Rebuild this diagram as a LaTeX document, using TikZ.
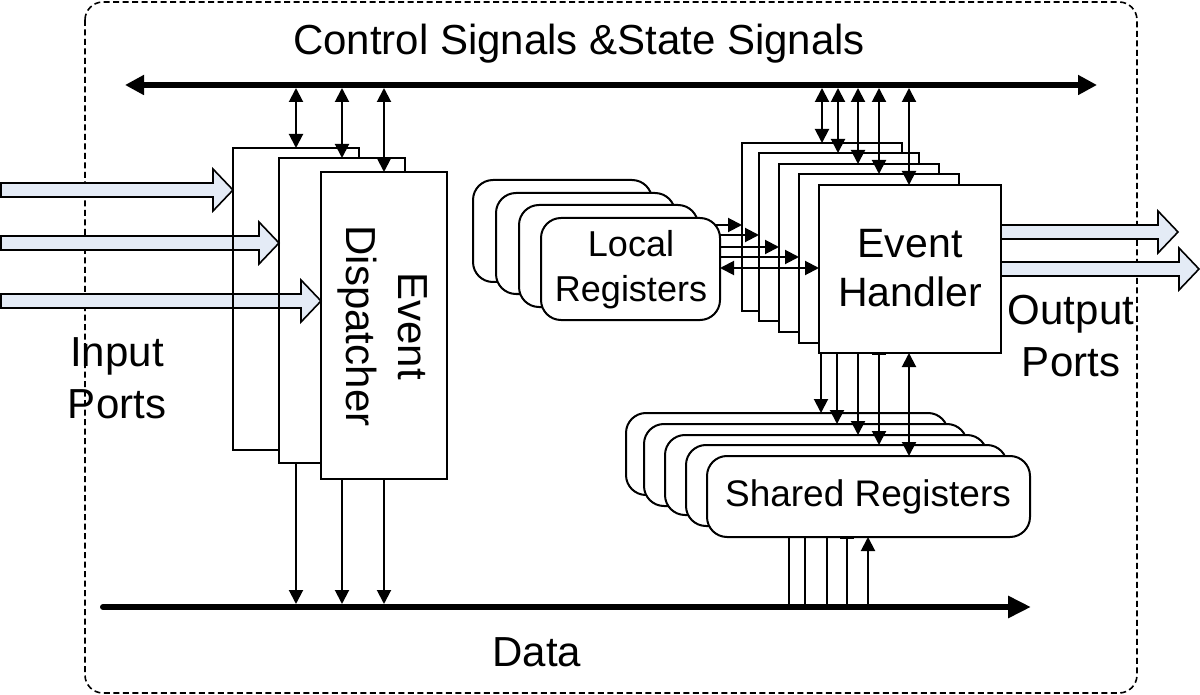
\documentclass[tikz,border=0pt]{standalone}
\usepackage{fontspec}
\setmainfont{Liberation Sans}
\usetikzlibrary{arrows.meta,fit,calc}
\definecolor{portfill}{HTML}{E4EBF6}
\tikzset{
  box/.style={draw=black, line width=2pt, fill=white, inner sep=0pt, outer sep=0pt},
  rbox/.style={box, rounded corners=20pt},
  conn/.style={line width=2pt},
  bus/.style={line width=6pt},
  port/.style={draw=black, line width=1.6pt, fill=portfill},
  lbl/.style={align=center, inner sep=0pt},
  big/.style={font=\fontsize{42}{52}\selectfont},
  mid/.style={font=\fontsize{41}{49}\selectfont},
  small/.style={font=\fontsize{36}{45}\selectfont},
  shr/.style={font=\fontsize{37}{45}\selectfont},
}
\newcommand\portarrow[3]{\draw[port] (#1,#3-7) -- (#2-20,#3-7) -- (#2-20,#3-21) -- (#2,#3) -- (#2-20,#3+21) -- (#2-20,#3+7) -- (#1,#3+7) -- cycle;}
\begin{document}
\begin{tikzpicture}[x=1pt,y=-1pt,>={Triangle[length=14pt,width=14pt]}]
\useasboundingbox (0,0) rectangle (1200,695);
% outer dashed frame
\draw[line width=1.6pt, dash pattern=on 6pt off 3.5pt, rounded corners=18pt] (85,2) rectangle (1137,693);
% buses
\coordinate (cL) at (125,85);
\coordinate (cR) at (1097,85);
\coordinate (dL) at (103,607);
\coordinate (dR) at (1031,607);
\draw[bus, {Triangle[length=19pt,width=19pt]}-{Triangle[length=19pt,width=19pt]}] (cL) -- (cR);
\draw[bus, line cap=round, -{Triangle[length=23pt,width=21pt]}] (dL) -- (dR);
% labels
\node[lbl, big] (ctltxt) at (579,44) {Control Signals \&State Signals};
\node[lbl, big] (datatxt) at (537,652) {Data};
\node[lbl, big] (intxt) at (117,378) {Input\\Ports};
\node[lbl, big] (outtxt) at (1071,336) {Output\\Ports};
% event dispatcher stack
\node[box, fit={(233,148) (359,450)}] (d1) {};
\node[box, fit={(279,158) (405,463)}] (d2) {};
\node[box, fit={(321,172) (447,479)}] (d3) {};
\node[lbl, big, rotate=-90] (dtxt) at (383,326) {Event\\Dispatcher};
% local registers stack
\node[rbox, fit={(473,180) (652,282)}] (lr4) {};
\node[rbox, fit={(496,193) (675,294)}] (lr3) {};
\node[rbox, fit={(519,205) (698,307)}] (lr2) {};
\node[rbox, fit={(541,218) (720,320)}] (lr1) {};
\node[lbl, small] (lrtxt) at (631,270) {Local\\Registers};
% event handler stack
\node[box, fit={(742,143) (902,311)}] (eh1) {};
\node[box, fit={(759,153) (919,321)}] (eh2) {};
\node[box, fit={(779,164) (939,332)}] (eh3) {};
\node[box, fit={(799,174) (959,343)}] (eh4) {};
\node[box, fit={(819,185) (1001,353)}] (eh5) {};
\node[lbl, mid] (ehtxt) at (910,268) {Event\\Handler};
% shared registers stack
\node[rbox, fit={(626,413) (948,495)}] (sr1) {};
\node[rbox, fit={(644,424) (967,506)}] (sr2) {};
\node[rbox, fit={(665,435) (987,515)}] (sr3) {};
\node[rbox, fit={(686,445) (1007,526)}] (sr4) {};
\node[rbox, fit={(707,456) (1030,537)}] (sr5) {};
\node[lbl, shr] (srtxt) at (868,497) {Shared Registers};
% input ports
\portarrow{1}{233}{190}
\portarrow{1}{279}{243}
\portarrow{1}{321}{301}
\draw[line width=2pt] (d1.north west) -- (d1.south west);
\draw[line width=2pt] (d2.north west) -- (d2.south west);
% output ports
\portarrow{1001}{1178}{232}
\portarrow{1001}{1199}{269}
% control bus <-> dispatcher
\draw[conn,<->,shorten <=3pt] (cL -| 296,0) -- (d1.north -| 296,0);
\draw[conn,<->,shorten <=3pt] (cL -| 342,0) -- (d2.north -| 342,0);
\draw[conn,<->,shorten <=3pt] (cL -| 384,0) -- (d3.north -| 384,0);
% dispatcher -> data bus
\draw[conn,->,shorten >=3pt] (d2.south -| 296,0) -- (dL -| 296,0);
\draw[conn,->,shorten >=3pt] (d3.south -| 342,0) -- (dL -| 342,0);
\draw[conn,->,shorten >=3pt] (d3.south -| 384,0) -- (dL -| 384,0);
% control bus <-> handler
\foreach \x/\b in {822/eh1,838/eh2,858/eh3,879/eh4,909/eh5}
  \draw[conn,<->,shorten <=3pt] (cL -| \x,0) -- (\b.north -| \x,0);
% local registers -> handler
\draw[conn,->] ($(lr1.east |- 0,225)+(-5,0)$) -- (eh1.west |- 0,225);
\foreach \y/\b in {235/eh2,247/eh3,257/eh4}
  \draw[conn,->] (lr1.east |- 0,\y) -- (\b.west |- 0,\y);
\draw[conn,<->] (lr1.east |- 0,268) -- (eh5.west |- 0,268);
% handler -> shared registers
\foreach \x/\b in {821/sr1,837/sr2,858/sr3}
  \draw[conn,->] (eh5.south -| \x,0) -- (\b.north -| \x,0);
\draw[conn,{Bar[width=14pt]}-{Triangle[length=14pt,width=14pt]}] (eh5.south -| 879,0) -- (sr4.north -| 879,0);
\draw[conn,<->] (eh5.south -| 909,0) -- (sr5.north -| 909,0);
% shared registers -> data bus
\foreach \x in {789,805,827}
  \draw[conn] (sr5.south -| \x,0) -- (dL -| \x,0);
\draw[conn,{Bar[width=14pt]}-] (sr5.south -| 847,0) -- (dL -| 847,0);
\draw[conn,<-] (sr5.south -| 868,0) -- (dL -| 868,0);
\end{tikzpicture}
\end{document}
